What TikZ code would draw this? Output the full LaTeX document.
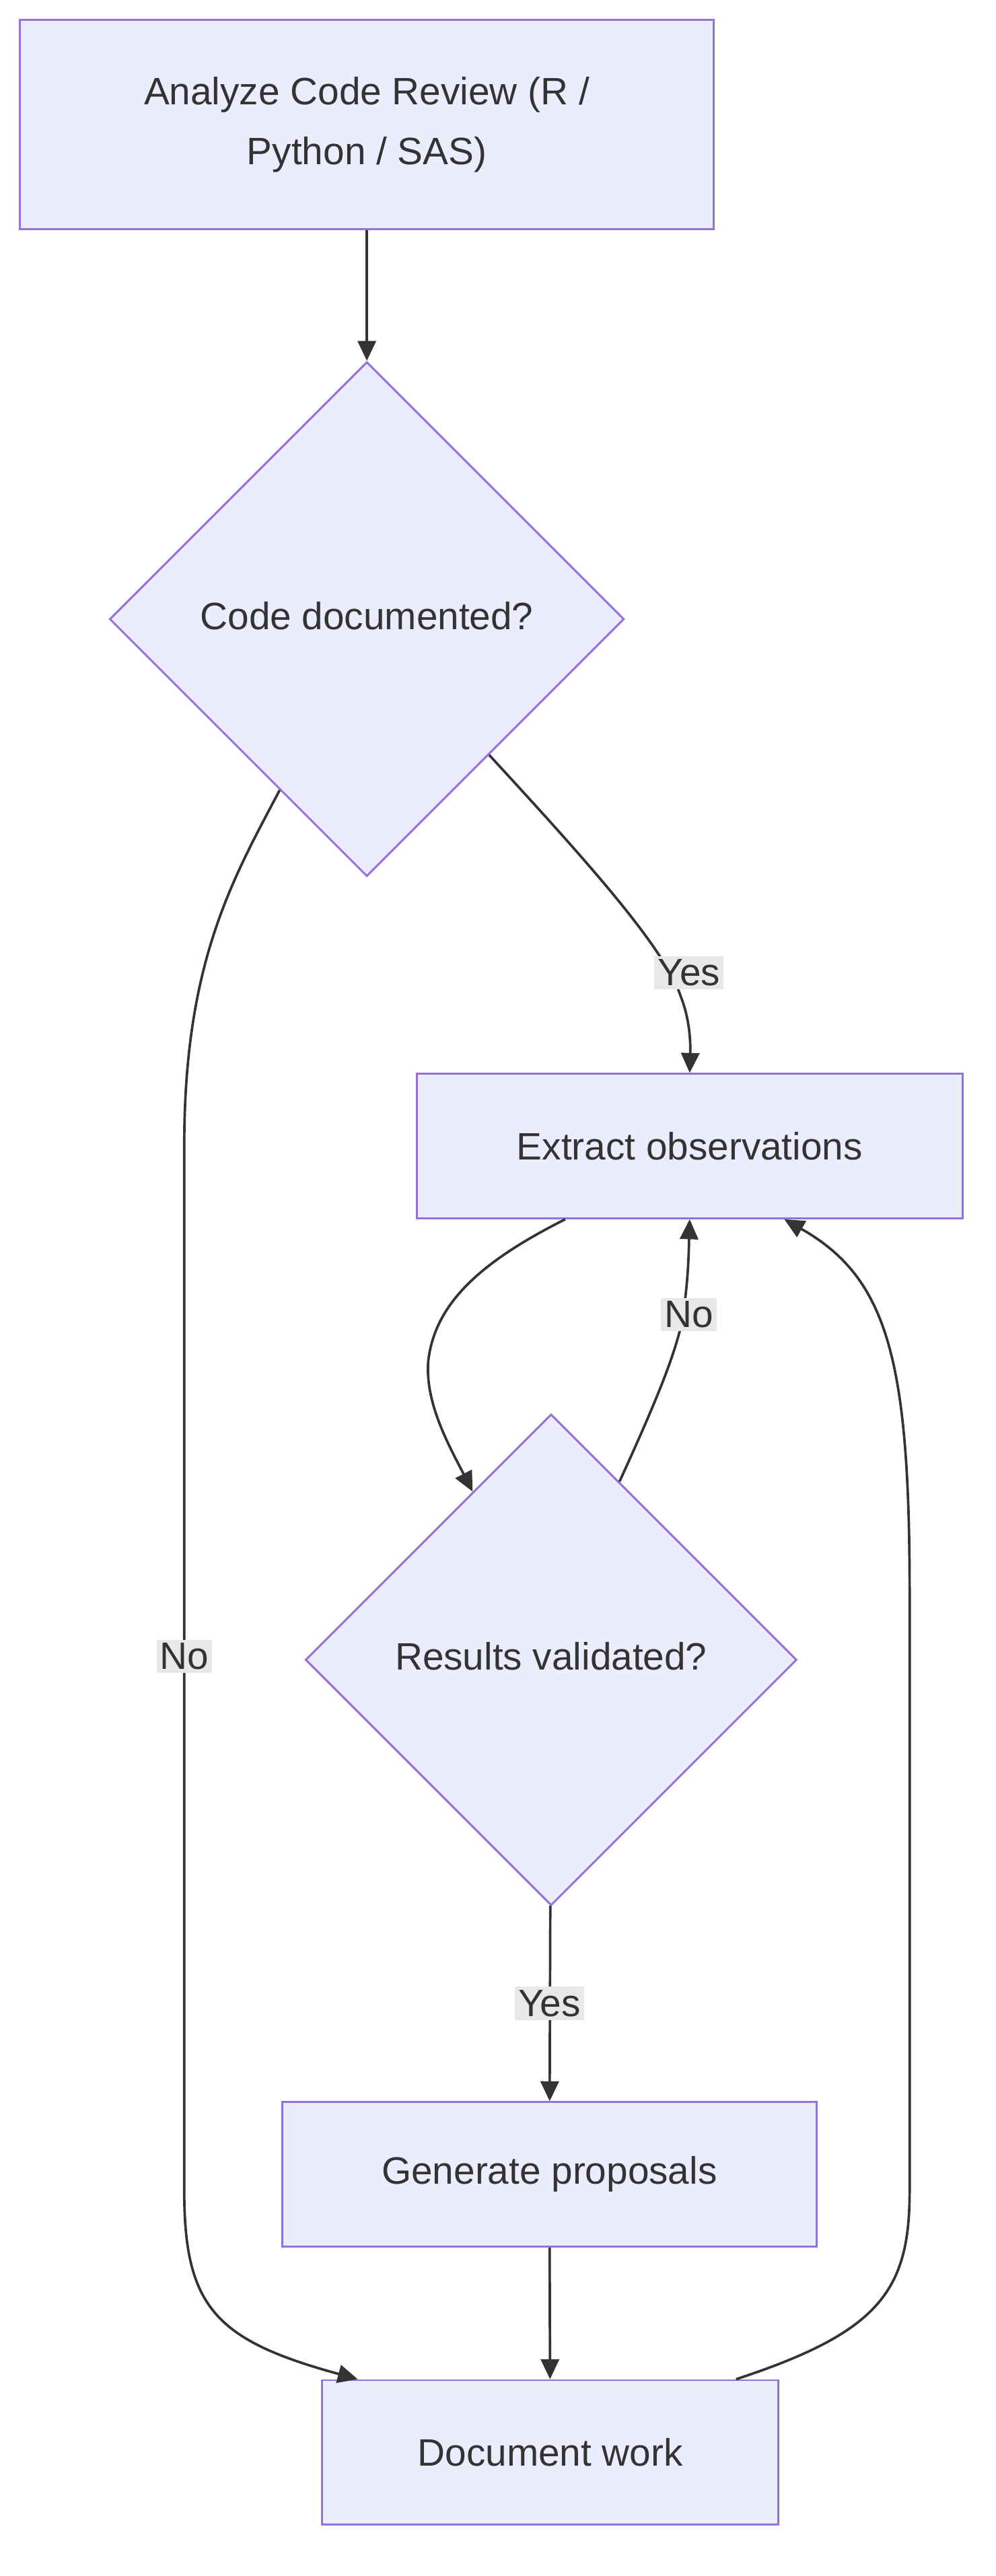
\documentclass[tikz,border=0pt]{standalone}
\usepackage{fontspec}
\setmainfont{Liberation Sans}
\usetikzlibrary{shapes.geometric,arrows.meta}
\definecolor{nodefill}{HTML}{ECECFF}
\definecolor{nodeline}{HTML}{9370DB}
\definecolor{edge}{HTML}{333333}
\definecolor{lbl}{HTML}{E8E8E8}
\begin{document}
\begin{tikzpicture}[x=1pt,y=-1pt,
  every node/.style={font=\fontsize{23}{36}\selectfont, text=edge},
  box/.style={draw=nodeline, fill=nodefill, line width=1.2pt, inner sep=0},
  dia/.style={diamond, draw=nodeline, fill=nodefill, line width=1.2pt, inner sep=0, aspect=1},
  arr/.style={draw=edge, line width=1.5pt, -{Triangle[length=12pt,width=11pt]}},
  lab/.style={fill=lbl, inner sep=2pt}]
\useasboundingbox (0,0) rectangle (600,1552);
\node[box, minimum width=418pt, minimum height=126pt, align=center] (A) at (221,75) {Analyze Code Review (R /\\Python / SAS)};
\node[dia, minimum width=310pt, minimum height=310pt] (B) at (221,373) {};
\node at (221,371) {Code documented?};
\node[box, minimum width=329pt, minimum height=87pt] (C) at (415.5,690.5) {Extract observations};
\node[dia, minimum width=296pt, minimum height=296pt] (D) at (332,1000) {};
\node at (332,998) {Results validated?};
\node[box, minimum width=322pt, minimum height=87pt] (E) at (331,1310) {Generate proposals};
\node[box, minimum width=275pt, minimum height=87pt] (F) at (331.5,1477.5) {Document work};

\draw[arr] (A) -- (B);
\draw[arr] (B.-48) .. controls (350,515) and (400,570) .. (410,600) .. controls (416,615) and (416,630) .. (C.north);
\node[lab] (ly) at (415,586) {Yes};
\draw[arr] (B.-117) .. controls (140,530) and (111,580) .. (111,690) -- (111,1320) .. controls (111,1390) and (130,1410) .. ([xshift=-116]F.north);
\node[lab] (ln) at (111,998) {No};
\draw[arr] ([xshift=-75]C.south) .. controls (290,760) and (262,785) .. (258,820) .. controls (256,845) and (270,870) .. (D.115);
\draw[arr] (D.69) .. controls (395,845) and (405,820) .. (410,800) .. controls (415,775) and (415,750) .. (C.south);
\node[lab] (ln2) at (415,792) {No};
\draw[arr] (D) -- (E);
\node[lab] (ly2) at (331,1207) {Yes};
\draw[arr] (E) -- (F);
\draw[arr] ([xshift=112]F.north) .. controls (530,1405) and (548,1380) .. (548,1320) -- (548,960) .. controls (548,820) and (535,770) .. ([xshift=57]C.south);
\end{tikzpicture}
\end{document}
